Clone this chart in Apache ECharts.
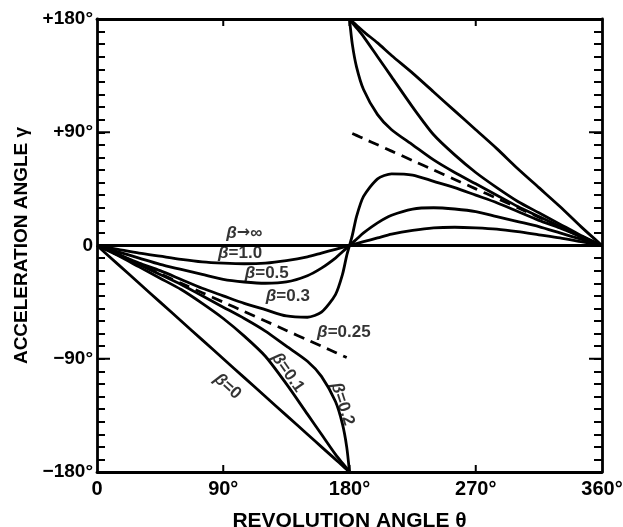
<!DOCTYPE html>
<html>
<head>
<meta charset="utf-8">
<script src="https://cdn.jsdelivr.net/npm/echarts@6.0.0/dist/echarts.min.js"></script>
<style>
  html, body { margin: 0; padding: 0; background: #fff; }
  #chart { width: 623px; height: 527px; }
</style>
</head>
<body>
<div id="chart"></div>
<script>
// revolution angle samples (deg), lower branch 0..180 and upper branch 180..360
var THETA_LO = [0, 15, 30, 45, 60, 75, 90, 105, 120, 135, 150, 160, 170, 175, 178, 180];
var THETA_HI = [180, 182, 185, 190, 200, 210, 225, 240, 255, 270, 285, 300, 315, 330, 345, 360];

// acceleration angle gamma (deg)
var BETA_0_LO = [0, -15, -30, -45, -60, -75, -90, -105, -120, -135, -150, -160, -170, -175, -178, -180];
var BETA_0_HI = [180, 178, 175, 170, 161, 151, 137, 122, 107, 92, 77, 61, 46, 31, 15, 0];
var BETA_01_LO = [0, -8, -17, -26, -35, -46, -58, -72, -88, -110, -134, -150, -166, -173, -177, -180];
var BETA_01_HI = [180, 177, 173, 166, 150, 134, 110, 88, 72, 58, 46, 35, 26, 17, 8, 0];
var BETA_02_LO = [0, -7, -15, -23, -31, -40, -49, -58, -68, -80, -92, -104, -124, -142, -160, -180];
var BETA_02_HI = [180, 160, 142, 124, 104, 92, 80, 68, 58, 49, 40, 31, 23, 15, 7, 0];
var BETA_025_LO = [0, -7.5, -15, -22.5, -30, -37.5, -45, -52.5, -60, -67.5, -75, -80, -85, -87.5, -89, null];
var BETA_025_HI = [null, 89, 87.5, 85, 80, 75, 67.5, 60, 52.5, 45, 37.5, 30, 22.5, 15, 7.5, 0];
var BETA_03_LO = [0, -7, -14, -20, -27, -34, -40, -46, -51, -56, -57, -53, -39, -23, -8, 0];
var BETA_03_HI = [0, 8, 23, 39, 53, 57, 56, 51, 46, 40, 34, 27, 20, 14, 7, 0];
var BETA_05_LO = [0, -5, -10, -15, -19, -23, -27, -29, -30, -29, -24, -18, -10, -5, -2, 0];
var BETA_05_HI = [0, 2, 5, 10, 18, 24, 29, 30, 29, 27, 23, 19, 15, 10, 5, 0];
var BETA_1_LO = [0, -3, -6, -8.5, -11, -13, -14, -14.5, -14, -12, -9, -6, -3, -1.5, -0.6, 0];
var BETA_1_HI = [0, 0.6, 1.5, 3, 6, 9, 12, 14, 14.5, 14, 13, 11, 8.5, 6, 3, 0];
var BETA_INF_THETA = [0, 360];
var BETA_INF = [0, 0];

var X_TICKS = [0, 90, 180, 270, 360];
var X_TICK_LABELS = ['0', '90°', '180°', '270°', '360°'];
var Y_TICKS = [-180, -90, 0, 90, 180];
var Y_TICK_LABELS = ['\u2212180°', '\u221290°', '0', '+90°', '+180°'];
var X_TICK_MARKS = [90, 180, 270];
var Y_MAJOR_MARKS = [-90, 0, 90];

var CURVE_LABELS = ['β→∞', 'β=1.0', 'β=0.5', 'β=0.3', 'β=0.25', 'β=0.1', 'β=0', 'β=0.2'];

var GRID = { left: 97, right: 21, top: 19, bottom: 55 };
var PLOT_W = 623 - GRID.left - GRID.right;
var PLOT_H = 527 - GRID.top - GRID.bottom;

function pairs(th, vals) {
    var out = [];
    for (var i = 0; i < th.length; ++i) {
        if (vals[i] !== null) out.push([th[i], vals[i]]);
    }
    return out;
}
function joined(lo, hi) {
    return pairs(THETA_LO, lo).concat(pairs(THETA_HI, hi).slice(1));
}

var FONT = 'Liberation Sans';
var solid = { color: '#000', width: 2.8 };
var dashed = { color: '#000', width: 2.8, type: [11, 7] };

function curve(data, style) {
    return {
        type: 'line',
        data: data,
        showSymbol: false,
        smooth: 0.25,
        lineStyle: style,
        silent: true,
        z: 3
    };
}

// label anchors in data coords: [theta, gamma, rotate]
var labelPos = [
    [105, 10, 0], [102, -6, 0], [121, -22, 0], [136, -40, 0],
    [176, -69, 0], [136, -101, -55], [93, -112, -42], [175, -126, -72]
];
var labelData = [];
for (var i = 0; i < CURVE_LABELS.length; ++i) {
    labelData.push({
        value: [labelPos[i][0], labelPos[i][1]],
        name: CURVE_LABELS[i],
        label: { rotate: labelPos[i][2] }
    });
}

// frame tick marks as short line segments (lengths in px turned into axis units)
var tx = 7 * 360 / PLOT_H;   // x ticks, vertical
var ty = 13 * 360 / PLOT_W;  // long y ticks, horizontal
var tickSeries = [];
function tick(a, b) {
    tickSeries.push({
        type: 'line', data: [a, b], showSymbol: false, smooth: false, silent: true,
        lineStyle: { color: '#000', width: 2 }, z: 4
    });
}
X_TICK_MARKS.forEach(function (v) {
    tick([v, -180], [v, -180 + tx]);
    tick([v, 180], [v, 180 - tx]);
});
Y_MAJOR_MARKS.forEach(function (v) {
    tick([0, v], [ty, v]);
    tick([360, v], [360 - ty, v]);
});

function lookup(ticks, labels) {
    return function (v) {
        var k = ticks.indexOf(Math.round(v));
        return k < 0 ? '' : labels[k];
    };
}

var lineStyle = { color: '#000', width: 2.8 };

function frameX(pos, showLabel) {
    return {
        type: 'value', position: pos, min: 0, max: 360, interval: 90,
        axisLine: { show: true, onZero: false, lineStyle: lineStyle },
        axisTick: { show: false },
        splitLine: { show: false },
        axisLabel: showLabel ? {
            formatter: lookup(X_TICKS, X_TICK_LABELS), color: '#000',
            fontFamily: FONT, fontWeight: 'bold', fontSize: 20, margin: 7
        } : { show: false }
    };
}
function frameY(pos) {
    // 10 deg ticks pointing into the plot
    return {
        type: 'value', position: pos, min: -180, max: 180, interval: 10,
        axisLine: { show: true, onZero: false, lineStyle: lineStyle },
        axisTick: { show: true, inside: true, length: 8, lineStyle: { color: '#000', width: 2 } },
        splitLine: { show: false },
        axisLabel: { show: false }
    };
}

var xBottom = frameX('bottom', true);
xBottom.name = 'REVOLUTION ANGLE θ';
xBottom.nameLocation = 'middle';
xBottom.nameGap = 39;
xBottom.nameTextStyle = { color: '#000', fontFamily: FONT, fontWeight: 'bold', fontSize: 21 };

// left axis: labels only at the 90 deg marks
var yLeft = frameY('left');
yLeft.axisLabel = {
    formatter: lookup(Y_TICKS, Y_TICK_LABELS), color: '#000',
    fontFamily: FONT, fontWeight: 'bold', fontSize: 19, margin: 4
};
yLeft.name = 'ACCELERATION ANGLE γ';
yLeft.nameLocation = 'middle';
yLeft.nameRotate = 90;
yLeft.nameGap = 63;
yLeft.nameTextStyle = { color: '#000', fontFamily: FONT, fontWeight: 'bold', fontSize: 19 };

var option = {
    animation: false,
    backgroundColor: '#fff',
    grid: {
        left: GRID.left, right: GRID.right, top: GRID.top, bottom: GRID.bottom,
        containLabel: false, outerBoundsMode: 'none'
    },
    xAxis: [xBottom, frameX('top', false)],
    yAxis: [yLeft, frameY('right')],
    series: [
        curve(pairs(BETA_INF_THETA, BETA_INF), solid),
        curve(joined(BETA_1_LO, BETA_1_HI), solid),
        curve(joined(BETA_05_LO, BETA_05_HI), solid),
        curve(joined(BETA_03_LO, BETA_03_HI), solid),
        curve(pairs(THETA_LO, BETA_025_LO), dashed),
        curve(pairs(THETA_HI, BETA_025_HI), dashed),
        curve(pairs(THETA_LO, BETA_02_LO), solid),
        curve(pairs(THETA_HI, BETA_02_HI), solid),
        curve(pairs(THETA_LO, BETA_01_LO), solid),
        curve(pairs(THETA_HI, BETA_01_HI), solid),
        curve(pairs(THETA_LO, BETA_0_LO), solid),
        curve(pairs(THETA_HI, BETA_0_HI), solid),
        {
            type: 'scatter',
            data: labelData,
            symbolSize: 0,
            silent: true,
            z: 5,
            label: {
                show: true,
                position: 'inside',
                formatter: function (p) {
                    var rest = p.name.slice(1);
                    if (rest.charAt(0) === '→') return '{i|β}{a|→}' + rest.slice(1);
                    return '{i|β}' + rest;
                },
                color: '#000',
                fontFamily: FONT,
                fontWeight: 'bold',
                fontSize: 17,
                rich: {
                    i: { fontFamily: FONT, fontWeight: 'bold', fontStyle: 'italic', fontSize: 17, color: '#000' },
                    a: { fontFamily: 'DejaVu Sans', fontWeight: 'bold', fontSize: 16, color: '#000' }
                }
            }
        }
    ].concat(tickSeries)
};

var chart = echarts.init(document.getElementById('chart'), null, { renderer: 'canvas' });
chart.setOption(option);
</script>
</body>
</html>
